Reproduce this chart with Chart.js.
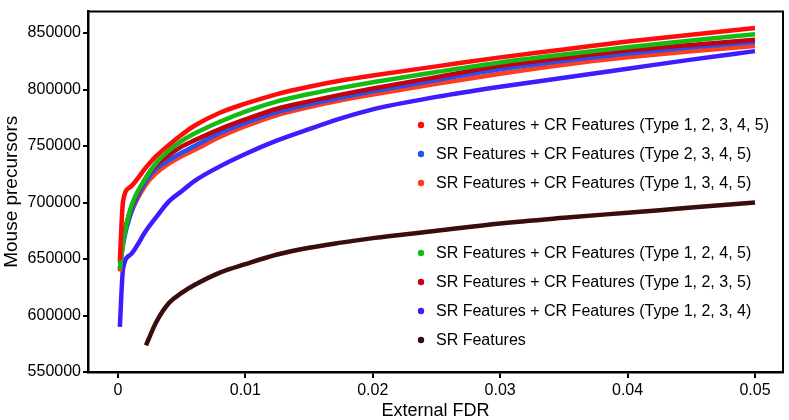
<!DOCTYPE html>
<html>
<head>
<meta charset="utf-8">
<style>
  html, body { margin: 0; padding: 0; background: #fff; }
</style>
</head>
<body>
<canvas id="chart" width="789" height="420"></canvas>
<script src="https://cdn.jsdelivr.net/npm/chart.js@4/dist/chart.umd.min.js"></script>
<script>
'use strict';

const fontFamily = '"Liberation Sans", Arial, Helvetica, sans-serif';

// external FDR values where the curves were read
const fdrSteps = [0.00015, 0.0004, 0.001, 0.0022, 0.003, 0.004, 0.005, 0.006, 0.008, 0.01,
  0.0125, 0.015, 0.0175, 0.02, 0.025, 0.03, 0.035, 0.04, 0.045, 0.05];

// mouse precursors per curve
const type12345 = [649000, 701000, 714000, 731000, 741000, 751000, 760000, 768000, 779500, 787500,
  796000, 802500, 808000, 812500, 820500, 828500, 835500, 842500, 848500, 854500];
const type2345 = [641500, 663000, 690000, 719000, 730000, 737500, 744000, 750000, 761500, 770500,
  780000, 787000, 793000, 798500, 808500, 818000, 825500, 832000, 837500, 842000];
const type1345 = [639000, 666000, 690000, 716000, 726000, 734500, 741000, 746500, 758000, 767500,
  777500, 784500, 790500, 795500, 805000, 814000, 822000, 828500, 834000, 838500];
const type1245 = [641000, 664000, 695000, 722000, 735000, 746000, 754500, 761000, 771500, 780500,
  789500, 796000, 801500, 806500, 815500, 824000, 831000, 837500, 843500, 849000];
const type1235 = [647000, 668000, 694000, 722000, 733000, 742000, 749500, 755000, 765000, 773500,
  783000, 789500, 795500, 801000, 811000, 821000, 828000, 834500, 839500, 844000];
const type1234 = [590000, 641000, 654000, 675000, 687000, 701000, 710000, 719000, 732000, 743000,
  755000, 765000, 774500, 782500, 793500, 802500, 810500, 818500, 826500, 834000];
const srOnly = [null, null, null, 573500, 594000, 611000, 620000, 627000, 638000, 645500,
  654000, 660000, 664500, 668500, 675000, 681500, 686500, 691000, 695500, 700000];

const seriesNames = [
  'SR Features + CR Features (Type 1, 2, 3, 4, 5)',
  'SR Features + CR Features (Type 2, 3, 4, 5)',
  'SR Features + CR Features (Type 1, 3, 4, 5)',
  'SR Features + CR Features (Type 1, 2, 4, 5)',
  'SR Features + CR Features (Type 1, 2, 3, 5)',
  'SR Features + CR Features (Type 1, 2, 3, 4)',
  'SR Features'
];
const seriesValues = [type12345, type2345, type1345, type1245, type1235, type1234, srOnly];
const seriesColors = ['#ff0b0b', '#2452f0', '#ff3c1e', '#14bb14', '#c2000e', '#3d1cff', '#3b0c0c'];
// which curve sits on top (lower = drawn later)
const drawOrder = [0, 3, 4, 1, 2, 5, 6];

const xTickValues = [0, 0.01, 0.02, 0.03, 0.04, 0.05];
const yTickValues = [550000, 600000, 650000, 700000, 750000, 800000, 850000];

// box round the plot (top and right edges)
const frameBox = {
  id: 'frameBox',
  afterDatasetsDraw(chart) {
    const {ctx, chartArea} = chart;
    ctx.save();
    ctx.strokeStyle = '#000';
    ctx.lineWidth = 2;
    ctx.beginPath();
    ctx.moveTo(chartArea.left, chartArea.top);
    ctx.lineTo(chartArea.right, chartArea.top);
    ctx.lineTo(chartArea.right, chartArea.bottom);
    ctx.stroke();
    ctx.restore();
  }
};

// legend inside the plot, with a gap after the third entry
const innerLegend = {
  id: 'innerLegend',
  afterDraw(chart) {
    const ctx = chart.ctx;
    ctx.save();
    ctx.font = '16px ' + fontFamily;
    ctx.textBaseline = 'middle';
    ctx.textAlign = 'left';
    chart.data.datasets.forEach((ds, i) => {
      const y = i < 3 ? 125 + 29 * i : 253 + 29 * (i - 3);
      ctx.fillStyle = ds.borderColor;
      ctx.beginPath();
      ctx.arc(421, y, 3.2, 0, Math.PI * 2);
      ctx.fill();
      ctx.fillStyle = '#000';
      ctx.fillText(ds.label, 436, y + 1);
    });
    ctx.restore();
  }
};

const canvasEl = document.getElementById('chart');

function drawChart() {
  let datasets = seriesNames.map((name, i) => ({
    label: name,
    data: fdrSteps.map((f, j) => ({x: f, y: seriesValues[i][j]})).filter(p => p.y !== null),
    borderColor: seriesColors[i],
    backgroundColor: seriesColors[i],
    borderWidth: 4.5,
    pointRadius: 0,
    fill: false,
    cubicInterpolationMode: 'monotone',
    order: drawOrder[i]
  }));
  return new Chart(canvasEl, {
    type: 'line',
    data: { datasets: datasets },
    options: {
      responsive: false,
      animation: false,
      layout: { padding: { top: 3, right: 6, left: 0, bottom: -2 } },
      plugins: { legend: { display: false }, tooltip: { enabled: false } },
      scales: {
        x: {
          type: 'linear',
          min: -0.00235,
          max: 0.0522,
          afterBuildTicks: s => { s.ticks = xTickValues.map(v => ({value: v})); },
          afterFit: s => { s.height = 50; },
          grid: { drawOnChartArea: false, drawTicks: true, tickLength: 6, color: '#000', lineWidth: 2 },
          border: { display: true, color: '#000', width: 2.5 },
          ticks: { color: '#000', font: { family: fontFamily, size: 16 }, padding: 3, maxRotation: 0,
            callback: v => String(v) },
          title: { display: true, text: 'External FDR', color: '#000',
            font: { family: fontFamily, size: 18 }, padding: { top: 0, bottom: 0 } }
        },
        y: {
          type: 'linear',
          min: 550000,
          max: 869000,
          afterBuildTicks: s => { s.ticks = yTickValues.map(v => ({value: v})); },
          afterFit: s => { s.width = 88; },
          grid: { drawOnChartArea: false, drawTicks: true, tickLength: 5, color: '#000', lineWidth: 2 },
          border: { display: true, color: '#000', width: 2.5 },
          ticks: { color: '#000', font: { family: fontFamily, size: 16 }, padding: 2,
            callback: v => String(v) },
          title: { display: true, text: 'Mouse precursors', color: '#000',
            font: { family: fontFamily, size: 19 }, padding: { top: 0, bottom: 0 } }
        }
      }
    },
    plugins: [frameBox, innerLegend]
  });
}

drawChart();
</script>
</body>
</html>
